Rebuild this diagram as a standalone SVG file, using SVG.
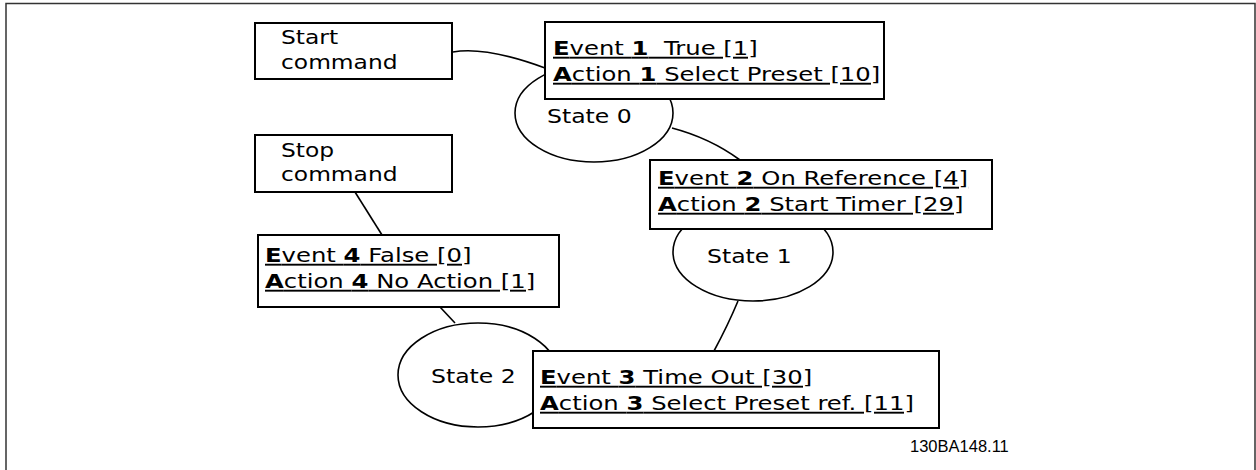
<svg xmlns="http://www.w3.org/2000/svg" width="1256" height="470" viewBox="0 0 1256 470">
<style>
.box{fill:#fff;stroke:#000;stroke-width:2}
.st{fill:#fff;stroke:#000;stroke-width:1.6}
.cn{fill:none;stroke:#000;stroke-width:1.6}
.t{font-family:"DejaVu Sans",Verdana,sans-serif;font-size:19px;fill:#000}
.u{text-decoration:underline}
.b{font-weight:bold}
.frame{fill:none;stroke:#333;stroke-width:1.5}
.code{font-family:"Liberation Sans",Arial,sans-serif;font-size:16.5px;fill:#000}
</style>
<rect x="0" y="0" width="1256" height="470" fill="#fff"/>
<path class="frame" d="M6,472 V3.5 H1255 V472"/>
<g id="connectors">
<path class="cn" d="M453,52 Q485,46 545,68"/>
<path class="cn" d="M672,128 Q710,138 740,160"/>
<path class="cn" d="M738,301 Q728,325 714,351"/>
<path class="cn" d="M355,192 L382,235"/>
<path class="cn" d="M440,307 L455,323"/>
</g>
<g id="state0">
<ellipse class="st" cx="594" cy="113" rx="79" ry="49"/>
<text class="t" transform="translate(547,123) scale(1.24,1)">State 0</text>
</g>
<g id="state1">
<ellipse class="st" cx="753" cy="252" rx="80" ry="49"/>
<text class="t" transform="translate(707,263) scale(1.24,1)">State 1</text>
</g>
<g id="state2">
<ellipse class="st" cx="478" cy="375" rx="80" ry="52"/>
<text class="t" transform="translate(431,383) scale(1.24,1)">State 2</text>
</g>
<g id="start">
<rect class="box" x="255" y="23" width="197" height="56"/>
<text class="t" transform="translate(281,44) scale(1.23,1)">Start</text>
<text class="t" transform="translate(281,69) scale(1.23,1)">command</text>
</g>
<g id="stop">
<rect class="box" x="255" y="135" width="197" height="57"/>
<text class="t" transform="translate(281,157) scale(1.23,1)">Stop</text>
<text class="t" transform="translate(281,181) scale(1.23,1)">command</text>
</g>
<g id="event1">
<rect class="box" x="545" y="22" width="339" height="77"/>
<text class="t u" transform="translate(553,55) scale(1.28,1)" xml:space="preserve"><tspan class="b">E</tspan>vent <tspan class="b">1</tspan>  True [1]</text>
<text class="t u" transform="translate(553,81) scale(1.28,1)"><tspan class="b">A</tspan>ction <tspan class="b">1</tspan> Select Preset [10]</text>
</g>
<g id="event2">
<rect class="box" x="650" y="160" width="342" height="69"/>
<text class="t u" transform="translate(658,185) scale(1.28,1)"><tspan class="b">E</tspan>vent <tspan class="b">2</tspan> On Reference [4]</text>
<text class="t u" transform="translate(658,211) scale(1.28,1)"><tspan class="b">A</tspan>ction <tspan class="b">2</tspan> Start Timer [29]</text>
</g>
<g id="event4">
<rect class="box" x="258" y="235" width="301" height="72"/>
<text class="t u" transform="translate(265,262) scale(1.28,1)"><tspan class="b">E</tspan>vent <tspan class="b">4</tspan> False [0]</text>
<text class="t u" transform="translate(265,288) scale(1.28,1)"><tspan class="b">A</tspan>ction <tspan class="b">4</tspan> No Action [1]</text>
</g>
<g id="event3">
<rect class="box" x="533" y="351" width="406" height="77"/>
<text class="t u" transform="translate(540,384) scale(1.28,1)"><tspan class="b">E</tspan>vent <tspan class="b">3</tspan> Time Out [30]</text>
<text class="t u" transform="translate(540,410) scale(1.28,1)"><tspan class="b">A</tspan>ction <tspan class="b">3</tspan> Select Preset ref. [11]</text>
</g>
<text class="code" x="910" y="452">130BA148.11</text>
</svg>
